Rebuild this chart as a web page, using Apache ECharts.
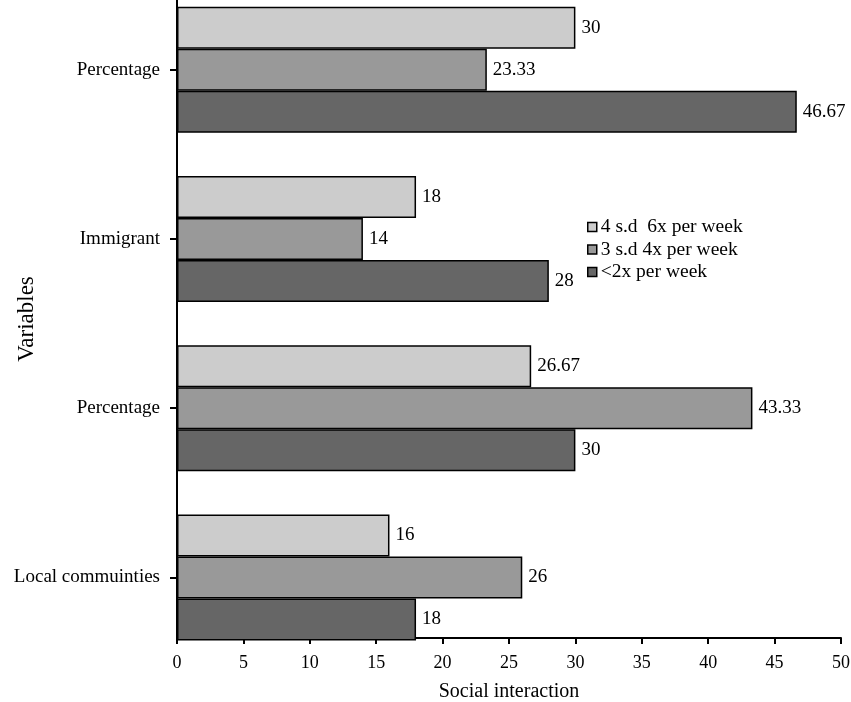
<!DOCTYPE html>
<html>
<head>
<meta charset="utf-8">
<script src="https://cdn.jsdelivr.net/npm/echarts@6/dist/echarts.min.js"></script>
<style>html,body{margin:0;padding:0;background:#fff}#c{width:851px;height:702px}</style>
</head>
<body>
<div id="c"></div>
<script>
const categories = ['Local commuinties', 'Percentage', 'Immigrant', 'Percentage'];
const seriesNames = ['4 s.d  6x per week', '3 s.d 4x per week', '<2x per week'];
const series6x = [16, 26.67, 18, 30];
const series4x = [26, 43.33, 14, 23.33];
const series2x = [18, 30, 28, 46.67];
const xTicks = { min: 0, max: 50, interval: 5 };
const colors = ['#cccccc', '#999999', '#666666'];

const FONT = 'Liberation Serif';
const chart = echarts.init(document.getElementById('c'), null, { renderer: 'canvas' });

function mk(name, data, color) {
  return {
    name: name, type: 'bar', xAxisIndex: 0, yAxisIndex: 0,
    data: data, barWidth: 42, barGap: '0%',
    itemStyle: { color: color, borderColor: '#000', borderWidth: 1.5 },
    label: { show: true, position: 'right', distance: 6, color: '#000', fontFamily: FONT, fontSize: 19 },
    emphasis: { disabled: true },
    animation: false
  };
}

chart.setOption({
  animation: false,
  textStyle: { fontFamily: FONT },
  grid: [
    { left: 177, right: 10, top: -15, bottom: 40, outerBoundsMode: 'none', containLabel: false },
    { left: 177, right: 10, top: 0, bottom: 64, outerBoundsMode: 'none', containLabel: false }
  ],
  legend: {
    orient: 'vertical', left: 582, top: 212,
    itemWidth: 9, itemHeight: 9, itemGap: 2.5,
    icon: 'rect',
    data: seriesNames,
    textStyle: { fontFamily: FONT, fontSize: 19.5, color: '#000', padding: [0, 0, 0, -1] },
    itemStyle: { borderColor: '#000', borderWidth: 1.5 }
  },
  xAxis: [
    { gridIndex: 0, type: 'value', min: xTicks.min, max: xTicks.max, interval: xTicks.interval, show: false, splitLine: { show: false } },
    {
      gridIndex: 1, type: 'value', min: xTicks.min, max: xTicks.max, interval: xTicks.interval,
      name: 'Social interaction', nameLocation: 'middle', nameGap: 44,
      nameTextStyle: { fontFamily: FONT, fontSize: 20, color: '#000' },
      axisLine: { show: true, lineStyle: { color: '#000', width: 2 } },
      axisTick: { show: true, length: 6, lineStyle: { color: '#000', width: 2 } },
      axisLabel: { color: '#000', fontFamily: FONT, fontSize: 18, margin: 16 },
      splitLine: { show: false }
    }
  ],
  yAxis: [
    {
      gridIndex: 0, type: 'category', data: categories,
      axisLine: { show: false },
      axisTick: { show: true, alignWithLabel: true, length: 7, lineStyle: { color: '#000', width: 2 } },
      axisLabel: { color: '#000', fontFamily: FONT, fontSize: 19, margin: 17 },
      splitLine: { show: false }
    },
    {
      gridIndex: 1, type: 'value', min: 0, max: 1,
      name: 'Variables', nameLocation: 'middle', nameGap: 139, nameRotate: 90,
      nameTextStyle: { fontFamily: FONT, fontSize: 23, color: '#000' },
      axisLine: { show: true, lineStyle: { color: '#000', width: 2 } },
      axisTick: { show: false }, axisLabel: { show: false }, splitLine: { show: false }
    }
  ],
  series: [
    mk(seriesNames[0], series6x, colors[0]),
    mk(seriesNames[1], series4x, colors[1]),
    mk(seriesNames[2], series2x, colors[2])
  ]
});
</script>
</body>
</html>
